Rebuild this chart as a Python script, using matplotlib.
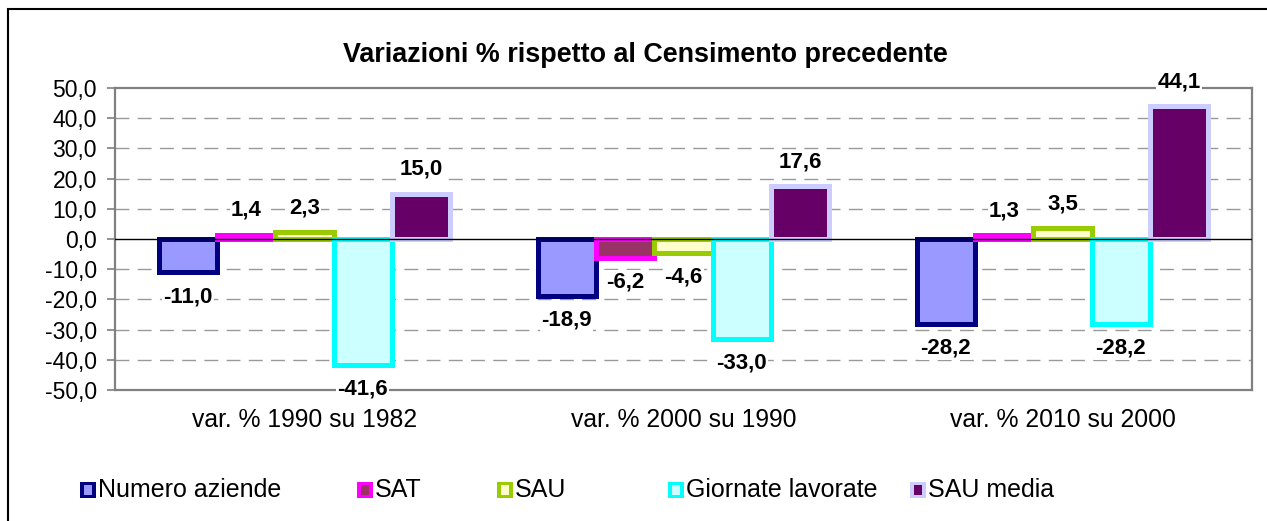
#!/usr/bin/env python3
import matplotlib

matplotlib.use("Agg")

import matplotlib.pyplot as plt
from matplotlib.patches import Rectangle

plt.rcParams["font.family"] = ["Liberation Sans", "DejaVu Sans"]

categories = ["var. % 1990 su 1982", "var. % 2000 su 1990", "var. % 2010 su 2000"]
series = ["Numero aziende", "SAT", "SAU", "Giornate lavorate", "SAU media"]
numero_aziende = [-11.0, -18.9, -28.2]
sat = [1.4, -6.2, 1.3]
sau = [2.3, -4.6, 3.5]
giornate = [-41.6, -33.0, -28.2]
sau_media = [15.0, 17.6, 44.1]
values = [numero_aziende, sat, sau, giornate, sau_media]

edge_colors = ["#000080", "#FF00FF", "#99CC00", "#00FFFF", "#CCCCFF"]
fill_colors = ["#9999FF", "#993366", "#FFFFCC", "#CCFFFF", "#660066"]

W, H = 1267, 521
fig = plt.figure(figsize=(W / 100, H / 100), dpi=100)
ax = fig.add_axes([115 / W, 1 - 390 / H, (1252 - 115) / W, (390 - 88) / H])

width = 1 / 6.5
for i, (name, vals) in enumerate(zip(series, values)):
    xs = [c + (i - 2) * width for c in range(len(categories))]
    ax.bar(xs, vals, width, facecolor=fill_colors[i], edgecolor=edge_colors[i],
           linewidth=3.6, zorder=3)
    for x, v in zip(xs, vals):
        off = 17.5 if v >= 0 else -17.5
        ax.annotate(("%.1f" % v).replace(".", ","), (x, v), xytext=(0, off),
                    textcoords="offset points", ha="center", va="center",
                    fontsize=16, fontweight="bold", zorder=5,
                    bbox=dict(boxstyle="square,pad=0.05", fc="white", ec="none"))

ax.set_xlim(-0.5, 2.5)
ax.set_ylim(-50, 50)
ax.set_yticks(range(-50, 51, 10))
ax.set_yticklabels([("%.1f" % t).replace(".", ",") for t in range(-50, 51, 10)],
                   fontsize=16.5)
ax.set_xticks(range(len(categories)))
ax.set_xticklabels(categories, fontsize=17.8)
ax.tick_params(axis="x", length=0, pad=13)
ax.tick_params(axis="y", length=6, width=1.2, color="#808080", pad=7, direction="out")
for t in range(-40, 41, 10):
    if t != 0:
        ax.axhline(t, color="#999999", lw=1.0, dashes=(10, 6), zorder=1)
ax.axhline(0, color="black", lw=1.0, zorder=4)
for s in ax.spines.values():
    s.set_color("#808080")
    s.set_linewidth(1.6)

fig.text(645 / W, 1 - 55 / H, "Variazioni % rispetto al Censimento precedente",
         ha="center", va="center", fontsize=19.4, fontweight="bold")

# legend
leg_x = [80, 357, 497, 668, 910]
leg_y = 490
for i, name in enumerate(series):
    x0 = leg_x[i]
    fig.add_artist(Rectangle((x0 / W, 1 - (leg_y + 8) / H), 16 / W, 16 / H,
                             transform=fig.transFigure, fc=edge_colors[i], ec="none"))
    fig.add_artist(Rectangle(((x0 + 4) / W, 1 - (leg_y + 5) / H), 8 / W, 10 / H,
                             transform=fig.transFigure, fc=fill_colors[i], ec="none"))
    fig.text((x0 + 18) / W, 1 - leg_y / H, name, ha="left", va="center", fontsize=18)

# outer frame
fig.add_artist(Rectangle((8 / W, -0.1), 1.2, 1 - 9 / H + 0.1, transform=fig.transFigure,
                         fill=False, ec="black", lw=1.5))

plt.savefig("out.png", dpi=100)
